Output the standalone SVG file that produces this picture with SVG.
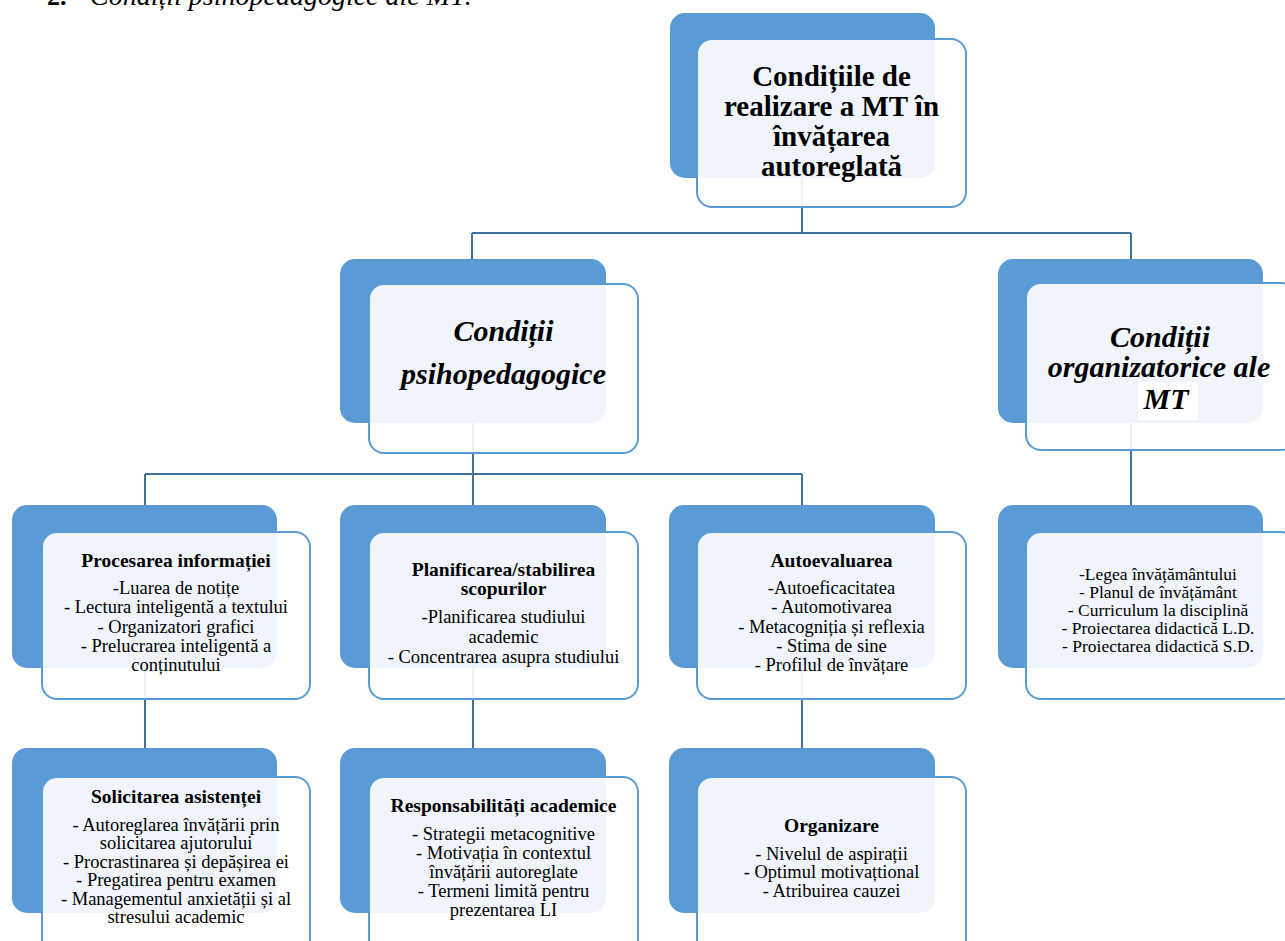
<svg xmlns="http://www.w3.org/2000/svg" width="1285" height="941" viewBox="0 0 1285 941">
<style>
.bg{fill:#ffffff}
.back{fill:#5b9bd5}
.front{fill:#ffffff;fill-opacity:0.9;stroke:#5b9bd5;stroke-width:2}
.conn{stroke:#41719c;stroke-width:2;fill:none}
text{font-family:"Liberation Serif","Times New Roman",serif;fill:#000;text-anchor:middle}
.h1{font-size:29px;font-weight:bold}
.h2{font-size:30px;font-weight:bold;font-style:italic}
.t{font-size:19.5px;font-weight:bold}
.b{font-size:18.5px}
.b2{font-size:17.5px}
</style>
<rect class="bg" x="0" y="0" width="1285" height="941"/>
<g id="header">
<text x="47" y="5" style="font-size:26px;font-weight:bold;text-anchor:start">2.</text>
<text x="90" y="5" style="font-size:28px;font-style:italic;text-anchor:start">Condiții psihopedagogice ale MT:</text>
</g>
<g id="connectors">
<path class="conn" d="M802 178 V233 M472 233 H1131 M472 233 V259 M1131 233 V259"/>
<path class="conn" d="M473 423 V474 M145 474 H802 M145 474 V505 M473 474 V505 M802 474 V505"/>
<path class="conn" d="M1131 423 V505"/>
<path class="conn" d="M145 668 V748 M473 668 V748 M802 668 V748"/>
</g>
<g id="n-root">
<rect class="back" x="670" y="13" width="265" height="165" rx="15"/>
<rect class="front" x="697" y="39" width="269" height="168" rx="15"/>
<text class="h1" x="831.5" y="86">Condițiile de</text>
<text class="h1" x="831.5" y="116">realizare a MT în</text>
<text class="h1" x="831.5" y="146">învățarea</text>
<text class="h1" x="831.5" y="176">autoreglată</text>
</g>
<g id="n-psiho">
<rect class="back" x="340" y="259" width="266" height="164" rx="15"/>
<rect class="front" x="369" y="284" width="269" height="169" rx="15"/>
<text class="h2" x="503.5" y="341">Condiții</text>
<text class="h2" x="503.5" y="384">psihopedagogice</text>
</g>
<g id="n-org">
<rect class="back" x="998" y="259" width="265" height="164" rx="15"/>
<rect class="front" x="1026" y="283" width="270" height="167" rx="15"/>
<text class="h2" x="1160" y="347">Condiții</text>
<text class="h2" x="1159" y="377">organizatorice ale</text>
<rect x="1138" y="382" width="60" height="38" fill="#ffffff"/>
<text class="h2" x="1166" y="409">MT</text>
</g>
<g id="n-procesarea">
<rect class="back" x="12" y="505" width="265" height="163" rx="15"/>
<rect class="front" x="42" y="532" width="268" height="167" rx="15"/>
<text class="t" x="176" y="567">Procesarea informației</text>
<text class="b" x="176" y="594">-Luarea de notițe</text>
<text class="b" x="176" y="613">- Lectura inteligentă  a textului</text>
<text class="b" x="176" y="633">- Organizatori  grafici</text>
<text class="b" x="176" y="652">- Prelucrarea inteligentă  a</text>
<text class="b" x="176" y="671">conținutului</text>
</g>
<g id="n-planificarea">
<rect class="back" x="340" y="505" width="266" height="163" rx="15"/>
<rect class="front" x="369" y="532" width="269" height="167" rx="15"/>
<text class="t" x="503.5" y="576">Planificarea/stabilirea</text>
<text class="t" x="503.5" y="595">scopurilor</text>
<text class="b" x="503.5" y="623">-Planificarea studiului</text>
<text class="b" x="503.5" y="643">academic</text>
<text class="b" x="503.5" y="663">- Concentrarea asupra studiului</text>
</g>
<g id="n-autoevaluarea">
<rect class="back" x="669" y="505" width="266" height="163" rx="15"/>
<rect class="front" x="697" y="532" width="269" height="167" rx="15"/>
<text class="t" x="831.5" y="567">Autoevaluarea</text>
<text class="b" x="831.5" y="594">-Autoeficacitatea</text>
<text class="b" x="831.5" y="613">- Automotivarea</text>
<text class="b" x="831.5" y="633">- Metacogniția și reflexia</text>
<text class="b" x="831.5" y="652">- Stima  de sine</text>
<text class="b" x="831.5" y="671">- Profilul  de  învățare</text>
</g>
<g id="n-org-list">
<rect class="back" x="998" y="505" width="265" height="163" rx="15"/>
<rect class="front" x="1026" y="532" width="270" height="167" rx="15"/>
<text class="b2" x="1158" y="580">-Legea învățământului</text>
<text class="b2" x="1158" y="598">- Planul  de învățământ</text>
<text class="b2" x="1158" y="616">- Curriculum   la disciplină</text>
<text class="b2" x="1158" y="634">- Proiectarea didactică L.D.</text>
<text class="b2" x="1158" y="652">- Proiectarea didactică S.D.</text>
</g>
<g id="n-solicitarea">
<rect class="back" x="12" y="748" width="265" height="165" rx="15"/>
<rect class="front" x="42" y="777" width="268" height="200" rx="15"/>
<text class="t" x="176" y="803">Solicitarea asistenței</text>
<text class="b" x="176" y="831">- Autoreglarea învățării  prin</text>
<text class="b" x="176" y="849">solicitarea  ajutorului</text>
<text class="b" x="176" y="868">- Procrastinarea și depășirea ei</text>
<text class="b" x="176" y="886">- Pregatirea pentru examen</text>
<text class="b" x="176" y="905">- Managementul anxietății și al</text>
<text class="b" x="176" y="923">stresului academic</text>
</g>
<g id="n-responsabilitati">
<rect class="back" x="340" y="748" width="266" height="165" rx="15"/>
<rect class="front" x="369" y="777" width="269" height="200" rx="15"/>
<text class="t" x="503.5" y="812">Responsabilități academice</text>
<text class="b" x="503.5" y="840">- Strategii  metacognitive</text>
<text class="b" x="503.5" y="859">- Motivația  în  contextul</text>
<text class="b" x="503.5" y="878">învățării  autoreglate</text>
<text class="b" x="503.5" y="897">- Termeni  limită  pentru</text>
<text class="b" x="503.5" y="916">prezentarea LI</text>
</g>
<g id="n-organizare">
<rect class="back" x="669" y="748" width="266" height="165" rx="15"/>
<rect class="front" x="697" y="777" width="269" height="200" rx="15"/>
<text class="t" x="831.5" y="832">Organizare</text>
<text class="b" x="831.5" y="860">- Nivelul  de aspirații</text>
<text class="b" x="831.5" y="878">- Optimul  motivațtional</text>
<text class="b" x="831.5" y="897">- Atribuirea  cauzei</text>
</g>
</svg>
